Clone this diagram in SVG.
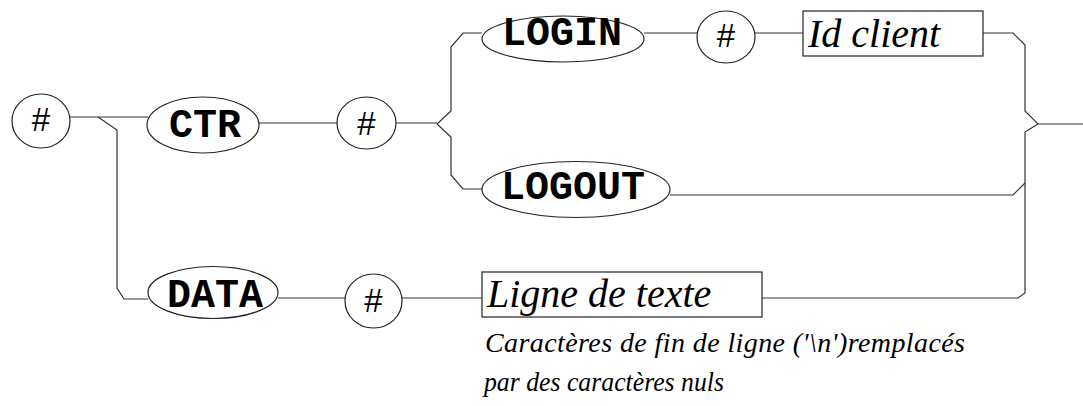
<svg xmlns="http://www.w3.org/2000/svg" width="1083" height="406" viewBox="0 0 1083 406">
  <style>
    .wire { fill: none; stroke: #333; stroke-width: 1.2; }
    .shape { fill: #fff; stroke: #222; stroke-width: 1.2; }
    .kw { font-weight: bold; font-size: 40px; text-anchor: middle; fill: #000; }
    .hash { font-size: 33px; text-anchor: middle; fill: #000; }
    .term { font-style: italic; font-size: 40px; fill: #000; }
    .note { font-style: italic; font-size: 28px; fill: #000; }
  </style>
  <rect width="1083" height="406" fill="#fff"/>

  <!-- connectors -->
  <g id="connectors" class="wire">
    <!-- start to CTR, with the DATA branch -->
    <path d="M70 117 H148"/>
    <path d="M98 117 L117 130 V288 L124 299 H148"/>
    <!-- CTR to # to the LOGIN / LOGOUT fork -->
    <path d="M259 123 H337"/>
    <path d="M396 123 H437"/>
    <path d="M437 124 L451 111 V47 L463 33 H482"/>
    <path d="M437 124 L451 137 V175 L463 189 H483"/>
    <!-- LOGIN branch -->
    <path d="M644 33 H697"/>
    <path d="M755 33 H803"/>
    <path d="M983 33 H1013 L1025 45 V111 L1038 124 H1083"/>
    <!-- LOGOUT branch -->
    <path d="M670 195 H1013 L1025 183"/>
    <!-- DATA branch -->
    <path d="M278 298 H345"/>
    <path d="M402 298 H482"/>
    <path d="M762 298 H1018 L1025 293 V132 L1038 124"/>
  </g>

  <!-- nodes -->
  <g id="start-hash">
    <ellipse class="shape" cx="41" cy="121" rx="29" ry="27"/>
    <text class="hash" font-family="Liberation Sans, Arial, sans-serif" x="41" y="131">#</text>
  </g>
  <g id="ctr">
    <ellipse class="shape" cx="203" cy="125" rx="56" ry="28"/>
    <text class="kw" font-family="Liberation Mono, Courier New, monospace" x="205" y="137">CTR</text>
  </g>
  <g id="ctr-hash">
    <ellipse class="shape" cx="366.5" cy="123" rx="29.5" ry="26"/>
    <text class="hash" font-family="Liberation Sans, Arial, sans-serif" x="366.5" y="135">#</text>
  </g>
  <g id="login">
    <ellipse class="shape" cx="563" cy="39" rx="81" ry="23"/>
    <text class="kw" font-family="Liberation Mono, Courier New, monospace" x="562" y="45">LOGIN</text>
  </g>
  <g id="login-hash">
    <ellipse class="shape" cx="726" cy="37" rx="29" ry="26"/>
    <text class="hash" font-family="Liberation Sans, Arial, sans-serif" x="726" y="47">#</text>
  </g>
  <g id="id-client">
    <rect class="shape" x="803" y="11" width="180" height="45"/>
    <text class="term" font-family="Liberation Serif, Times New Roman, serif" x="808" y="47">Id client</text>
  </g>
  <g id="logout">
    <ellipse class="shape" cx="576" cy="189.5" rx="94" ry="28"/>
    <text class="kw" font-family="Liberation Mono, Courier New, monospace" x="573" y="199">LOGOUT</text>
  </g>
  <g id="data">
    <ellipse class="shape" cx="213" cy="292.5" rx="65" ry="26"/>
    <text class="kw" font-family="Liberation Mono, Courier New, monospace" x="215" y="307">DATA</text>
  </g>
  <g id="data-hash">
    <ellipse class="shape" cx="373.5" cy="301" rx="28.5" ry="27"/>
    <text class="hash" font-family="Liberation Sans, Arial, sans-serif" x="373.5" y="312">#</text>
  </g>
  <g id="ligne-de-texte">
    <rect class="shape" x="482" y="272" width="280" height="45"/>
    <text class="term" font-family="Liberation Serif, Times New Roman, serif" x="487" y="307">Ligne de texte</text>
  </g>

  <!-- note under the text line -->
  <g id="note">
    <text class="note" font-family="Liberation Serif, Times New Roman, serif" x="485" y="352" textLength="480" lengthAdjust="spacing">Caractères de fin de ligne ('\n')remplacés</text>
    <text class="note" font-family="Liberation Serif, Times New Roman, serif" x="484" y="391" textLength="240" lengthAdjust="spacingAndGlyphs">par des caractères nuls</text>
  </g>
</svg>
